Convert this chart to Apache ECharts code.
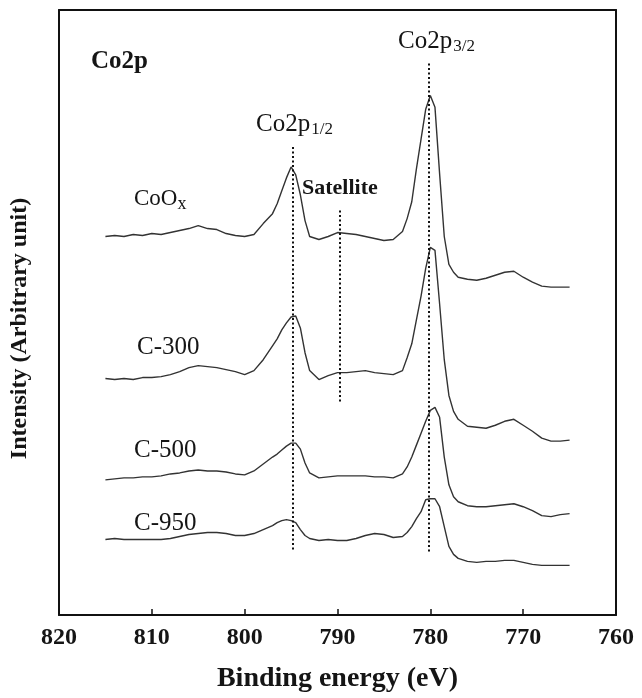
<!DOCTYPE html>
<html>
<head>
<meta charset="utf-8">
<script src="https://cdn.jsdelivr.net/npm/echarts@6/dist/echarts.min.js"></script>
<style>
  html, body { margin: 0; padding: 0; background: #fff; }
  #chart { width: 642px; height: 698px; }
</style>
</head>
<body>
<div id="chart"></div>
<script>
// binding energy (eV), shared by all spectra
const energy = [
  815, 814, 813, 812, 811, 810, 809, 808, 807, 806, 805, 804, 803, 802, 801, 800, 799, 798, 797,
  796.5, 796, 795.5, 795, 794.5, 794, 793.5, 793,
  792, 791, 790, 789, 788, 787, 786, 785, 784, 783,
  782.5, 782, 781.5, 781, 780.5, 780, 779.5, 779, 778.5, 778, 777.5, 777,
  776, 775, 774, 773, 772, 771, 770, 769, 768, 767, 766, 765
];

// intensities (arbitrary unit, already offset for stacking)
const coox = [
  381, 382, 381, 383, 382, 384, 383, 385, 387, 389, 392, 389, 388, 384, 382, 381, 383, 394, 404,
  414, 427, 440, 451, 443, 423, 397, 381,
  378, 381, 385, 384, 383, 381, 379, 377, 378, 386,
  399, 416, 449, 479, 509, 523, 511, 444, 381, 353, 345, 340,
  338, 337, 339, 342, 345, 346, 340, 335, 331, 330, 330, 330
];
const c300 = [
  238, 237, 238, 237, 239, 239, 240, 242, 245, 249, 251, 250, 249, 247, 245, 242, 246, 257, 271,
  278, 287, 294, 300, 301, 289, 264, 246,
  237, 241, 244, 244, 245, 246, 244, 243, 242, 246,
  259, 273, 297, 321, 349, 370, 367, 313, 257, 221, 205, 197,
  190, 189, 188, 191, 195, 197, 191, 185, 178, 175, 175, 176
];
const c500 = [
  136, 137, 138, 138, 139, 139, 140, 142, 143, 145, 146, 145, 145, 144, 142, 141, 145, 152, 159,
  162, 166, 170, 173, 173, 167, 153, 143,
  138, 139, 140, 140, 140, 140, 139, 139, 138, 142,
  149, 159, 171, 183, 195, 206, 209, 199, 159, 131, 119, 114,
  110, 109, 109, 110, 111, 112, 109, 105, 100, 99, 101, 102
];
const c950 = [
  76, 77, 76, 76, 76, 76, 76, 77, 79, 81, 82, 83, 83, 82, 80, 80, 82, 86, 90,
  93, 95, 96, 95, 93, 86, 80, 77,
  75, 76, 75, 75, 77, 80, 82, 81, 78, 79,
  83, 89, 97, 104, 116, 117, 117, 109, 89, 69, 61, 57,
  54, 53, 54, 54, 55, 55, 53, 51, 50, 50, 50, 50
];

const xTicks = [820, 810, 800, 790, 780, 770, 760];

// dotted reference lines: [energy, from, to]
const refLines = [
  [794.8, 66, 472],
  [789.8, 215, 409],
  [780.2, 64, 557]
];

const serif = '"Liberation Serif", "Times New Roman", serif';
const ink = '#333';
const txt = '#151515';

const chart = echarts.init(document.getElementById('chart'));

const pair = (a, b) => a.map((v, i) => [v, b[i]]);

const spectra = [coox, c300, c500, c950].map((vals, i) => ({
  type: 'line',
  data: pair(energy, vals),
  showSymbol: false,
  smooth: false,
  silent: true,
  lineStyle: { color: ink, width: 1.4 },
  markLine: i === 0 ? {
    symbol: 'none',
    silent: true,
    label: { show: false },
    lineStyle: { type: [2, 2.5], color: '#111', width: 2 },
    data: refLines.map(([e, y0, y1]) => [{ coord: [e, y0] }, { coord: [e, y1] }])
  } : undefined
}));

function label(x, y, text, size, bold) {
  return {
    type: 'text', x, y,
    style: {
      text, fill: txt, font: (bold ? 'bold ' : '') + size + 'px ' + serif,
      verticalAlign: 'middle'
    }
  };
}

function subLabel(x, y, main, sub, size, subSize) {
  return {
    type: 'text', x, y,
    style: {
      text: '{a|' + main + '}{s|' + sub + '}',
      verticalAlign: 'middle',
      rich: {
        a: { fontSize: size, fontFamily: serif, fill: txt, lineHeight: size + 4, verticalAlign: 'middle' },
        s: { fontSize: subSize, fontFamily: serif, fill: txt, lineHeight: size + 4, verticalAlign: 'bottom', padding: [0, 0, 0, 1] }
      }
    }
  };
}

const frameLine = { show: true, onZero: false, lineStyle: { color: '#111', width: 2 } };

chart.setOption({
  animation: false,
  backgroundColor: '#fff',
  grid: { left: 59, right: 26, top: 10, bottom: 79 },
  xAxis: [
    {
      type: 'value', min: 760, max: 820, interval: 10, inverse: true,
      name: 'Binding energy (eV)', nameLocation: 'middle', nameGap: 50,
      nameTextStyle: { fontFamily: serif, fontWeight: 'bold', fontSize: 28, color: txt },
      axisLine: frameLine,
      axisTick: { show: true, inside: true, length: 6, lineStyle: { color: '#111', width: 1.5 } },
      axisLabel: {
        margin: 11, fontFamily: serif, fontWeight: 'bold', fontSize: 24, color: txt,
        formatter: (v) => (xTicks.includes(v) ? String(v) : '')
      },
      splitLine: { show: false }
    },
    {
      type: 'value', min: 760, max: 820, inverse: true, position: 'top',
      axisLine: frameLine,
      axisTick: { show: false }, axisLabel: { show: false }, splitLine: { show: false }
    }
  ],
  yAxis: [
    {
      type: 'value', min: 0, max: 609,
      name: 'Intensity (Arbitrary unit)', nameLocation: 'middle', nameGap: 27,
      nameTextStyle: { fontFamily: serif, fontWeight: 'bold', fontSize: 24, color: txt, padding: [0, 32, 0, 0] },
      axisLine: frameLine,
      axisTick: { show: false }, axisLabel: { show: false }, splitLine: { show: false }
    },
    {
      type: 'value', min: 0, max: 609, position: 'right',
      axisLine: frameLine,
      axisTick: { show: false }, axisLabel: { show: false }, splitLine: { show: false }
    }
  ],
  series: spectra,
  graphic: [
    label(91, 62, 'Co2p', 25, true),
    subLabel(256, 124, 'Co2p', '1/2', 25, 17),
    subLabel(398, 41, 'Co2p', '3/2', 25, 17),
    label(302, 188, 'Satellite', 22, true),
    {
      type: 'text', x: 134, y: 199,
      style: {
        text: '{a|CoO}{s|x}',
        verticalAlign: 'middle',
        rich: {
          a: { fontSize: 23, fontFamily: serif, fill: txt, lineHeight: 28, verticalAlign: 'middle' },
          s: { fontSize: 18, fontFamily: serif, fill: txt, lineHeight: 28, verticalAlign: 'bottom' }
        }
      }
    },
    label(137, 347, 'C-300', 25, false),
    label(134, 450, 'C-500', 25, false),
    label(134, 523, 'C-950', 25, false)
  ]
});
</script>
</body>
</html>
